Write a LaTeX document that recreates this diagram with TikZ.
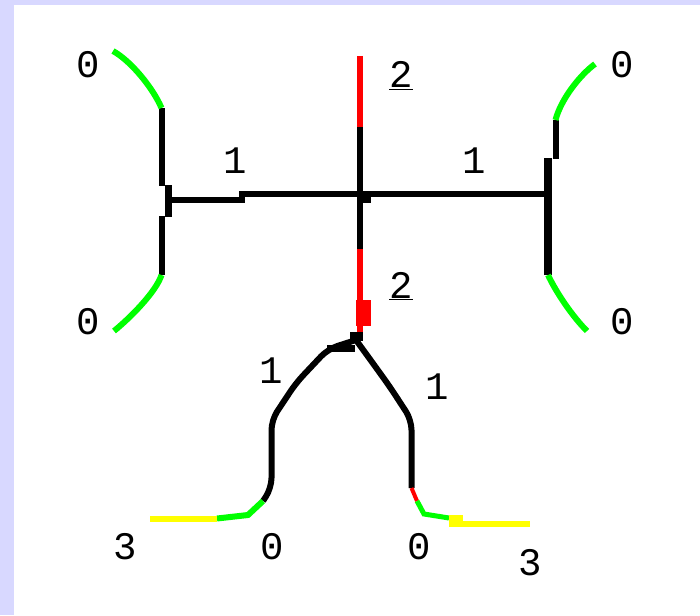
\documentclass[tikz,border=0pt]{standalone}
\usepackage{fontspec}
\setmonofont{Liberation Mono}
\definecolor{lav}{RGB}{216,216,255}
\definecolor{grn}{RGB}{0,255,0}
\definecolor{rd}{RGB}{255,0,0}
\definecolor{yel}{RGB}{255,255,0}
\begin{document}
\begin{tikzpicture}[x=1pt,y=-1pt,
  edge/.style={line width=6pt},
  blk/.style={edge,draw=black},
  thick blk/.style={line width=7.5pt,draw=black},
  gr/.style={edge,draw=grn},
  rdl/.style={edge,draw=rd},
  yl/.style={edge,draw=yel},
  lbl/.style={font=\fontsize{39}{39}\selectfont\ttfamily,inner sep=0pt}]
\useasboundingbox (0,0) rectangle (700,615);
\fill[lav] (0,0) rectangle (700,615);
\fill[white] (14,5) rectangle (700,615);
% centre and vertical axis
\coordinate (C) at (360,194);
\coordinate (T) at (360,56);
\coordinate (Tm) at (360,127);
\coordinate (D1) at (360,249);
\coordinate (D2) at (360,334);
\draw[rdl] (T) -- (Tm);
\draw[blk] (Tm) -- (C);
\draw[blk] (C) -- (D1);
\draw[rdl] (D1) -- (D2);
\fill[rd] (356,300) rectangle (371,326);
\fill[black] (360,194) rectangle (371,203);
% left T
\coordinate (LS1) at (242,194);
\coordinate (LS2) at (242,200);
\coordinate (LT) at (169,200);
\coordinate (LTa) at (168.5,185);
\coordinate (LTb) at (168.5,217);
\coordinate (LU) at (161.5,108);
\coordinate (LUm) at (161.5,186);
\coordinate (LD) at (161.5,275);
\coordinate (LDm) at (161.5,216);
\coordinate (GLT) at (113,51);
\coordinate (GLB) at (114,331);
\draw[blk] (C) -- (LS1) -- (LS2) -- (LT);
\draw[thick blk] (LTa) -- (LTb);
\draw[blk] (LU) -- (LUm);
\draw[blk] (LDm) -- (LD);
\draw[gr] (LU) .. controls (153,88) and (131,61) .. (GLT);
\draw[gr] (LD) .. controls (156,292) and (130,318) .. (GLB);
% right T
\coordinate (RT) at (548,194);
\coordinate (RTa) at (548,158);
\coordinate (RTb) at (548,275);
\coordinate (RU) at (555.5,120);
\coordinate (RUm) at (555.5,159);
\coordinate (GRT) at (595,64);
\coordinate (GRB) at (587,331);
\draw[blk] (C) -- (RT);
\draw[thick blk] (RTa) -- (RTb);
\draw[blk] (RU) -- (RUm);
\draw[gr] (RU) .. controls (561,99) and (580,75) .. (GRT);
\draw[gr] (RTb) .. controls (556,292) and (572,316) .. (GRB);
% lower junction
\coordinate (J) at (356,340);
\coordinate (L1) at (328,349);
\coordinate (L2) at (296,383);
\coordinate (L3) at (271.5,420);
\coordinate (L4) at (271.5,488);
\coordinate (L5) at (263,501);
\coordinate (L6) at (248,515);
\coordinate (L7) at (217,518.5);
\coordinate (L8) at (150,518.5);
\fill[black] (350,332) rectangle (363,341);
\fill[black] (327,345) rectangle (355,352);
\draw[blk,rounded corners=10pt] (J) -- (L1) -- (L2) -- (L3) -- (L4) -- (L5);
\draw[gr] (L5) -- (L6) -- (L7);
\draw[yl] (L7) -- (L8);
\coordinate (R1) at (372,362);
\coordinate (R2) at (390,387);
\coordinate (R3) at (411.5,420);
\coordinate (R4) at (411.5,488);
\coordinate (R5) at (417,501);
\coordinate (R6) at (424,514);
\coordinate (R7) at (449,518);
\coordinate (Y1) at (449,524);
\coordinate (Y2) at (530,524);
\draw[blk,rounded corners=10pt] (J) -- (R1) -- (R2) -- (R3) -- (R4);
\draw[rd,line width=4pt] (R4) -- (R5);
\draw[grn,line width=5pt] (R5) -- (R6) -- (R7);
\draw[yl] (Y1) -- (Y2);
\fill[yel] (449,515) rectangle (463,527);
% labels
\node[lbl] (z1) at (88,65) {0};
\node[lbl] (z2) at (88,322) {0};
\node[lbl] (z3) at (622,65) {0};
\node[lbl] (z4) at (622,322) {0};
\node[lbl] (o1) at (235,161) {1};
\node[lbl] (o2) at (474,161) {1};
\node[lbl,anchor=base] (t1) at (401,88) {\underline{2}};
\node[lbl,anchor=base] (t2) at (401,298) {\underline{2}};
\node[lbl] (o3) at (271,371) {1};
\node[lbl] (o4) at (437,387) {1};
\node[lbl] (h1) at (125,547) {3};
\node[lbl] (z5) at (272,547) {0};
\node[lbl] (z6) at (419,547) {0};
\node[lbl] (h2) at (530,563) {3};
\end{tikzpicture}
\end{document}
